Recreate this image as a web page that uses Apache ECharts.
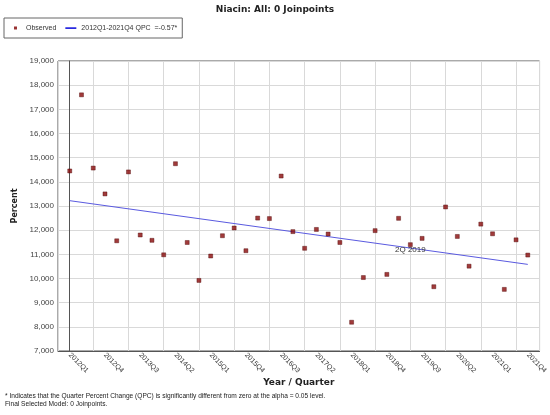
<!DOCTYPE html>
<html>
<head>
<meta charset="utf-8">
<script src="https://cdn.jsdelivr.net/npm/echarts@6/dist/echarts.min.js"></script>
<style>
html, body { margin: 0; padding: 0; background: #fff; }
#chart { width: 550px; height: 415px; }
</style>
</head>
<body>
<div id="chart"></div>
<script>
// quarters 2012Q1 .. 2021Q4
var quarters = [];
for (var yr = 2012; yr <= 2021; yr++) {
	for (var q = 1; q <= 4; q++) {
		quarters.push(yr + 'Q' + q);
	}
}

var observed = [14450, 17600, 14570, 13500, 11560, 14410, 11800, 11580, 10980, 14750,
	11490, 9920, 10930, 11770, 12090, 11150, 12500, 12480, 14240, 11940,
	11250, 12030, 11840, 11490, 8190, 10040, 11980, 10170, 12490, 11400,
	11660, 9660, 12960, 11740, 10510, 12250, 11850, 9550, 11600, 10970];

// fitted line (start / end of the segment)
var fitIndex = [0, 39];
var fitValue = [13220, 10584];

var labelIndex = 29; // 2Q 2019
var labelValue = 11200;

var obsName = 'Observed';
var fitName = '2012Q1-2021Q4 QPC  =-0.57*';

var scatterData = [];
for (var i = 0; i < observed.length; i++) {
	scatterData.push([i, observed[i]]);
}
var lineData = [];
for (var j = 0; j < fitIndex.length; j++) {
	lineData.push([fitIndex[j], fitValue[j]]);
}

// legend icons: tiny corner specks keep the icon box at 11x8
var dotIcon = 'path://M0,0h0.01v0.01h-0.01z M4,2.5h3v3h-3z M11,8h0.01v0.01h-0.01z';
var lineIcon = 'path://M0,0h0.01v0.01h-0.01z M0,3.3h11v1.6h-11z M11,8h0.01v0.01h-0.01z';

var myChart = echarts.init(document.getElementById('chart'));

var option = {
	backgroundColor : '#fff',
	animation : false,
	textStyle : {
		fontFamily : 'Liberation Sans'
	},
	title : {
		text : 'Niacin: All: 0 Joinpoints',
		left : 'center',
		top : 0,
		textStyle : {
			fontFamily : 'DejaVu Sans',
			fontSize : 9,
			fontWeight : 'bold',
			color : '#222'
		}
	},
	legend : {
		left : 4,
		top : 18,
		orient : 'horizontal',
		padding : [ 6, 5, 6, 6 ],
		borderColor : '#666',
		borderWidth : 1,
		borderRadius : 0,
		itemGap : 9,
		itemWidth : 11,
		itemHeight : 8,
		textStyle : {
			fontSize : 7,
			color : '#333'
		},
		data : [ {
			name : obsName,
			icon : dotIcon,
			itemStyle : {
				color : '#800000',
				borderWidth : 0
			}
		}, {
			name : fitName,
			icon : lineIcon,
			itemStyle : {
				color : '#2a2ae0',
				borderWidth : 0
			}
		} ]
	},
	grid : {
		left : 58,
		right : 9,
		top : 61,
		bottom : 64,
		show : true,
		borderColor : '#555',
		borderWidth : 1
	},
	xAxis : [ {
		type : 'value',
		min : -1,
		max : 40,
		interval : 3,
		name : 'Year / Quarter',
		nameLocation : 'middle',
		nameGap : 27,
		nameTextStyle : {
			fontFamily : 'DejaVu Sans',
			fontSize : 9,
			fontWeight : 'bold',
			color : '#222'
		},
		axisLine : {
			lineStyle : {
				color : '#555'
			}
		},
		axisTick : {
			show : false
		},
		axisLabel : {
			show : false
		},
		splitLine : {
			show : true,
			lineStyle : {
				color : '#d9d9d9'
			}
		}
	}, {
		type : 'value',
		min : -1,
		max : 40,
		interval : 1,
		position : 'bottom',
		axisLine : {
			show : false
		},
		axisTick : {
			show : false
		},
		splitLine : {
			show : false
		},
		axisLabel : {
			rotate : -45,
			margin : 3,
			fontSize : 7,
			color : '#333',
			formatter : function(v) {
				if (v >= 0 && v % 3 === 0 && v < quarters.length) {
					return quarters[v];
				}
				return '';
			}
		}
	} ],
	yAxis : {
		type : 'value',
		min : 7000,
		max : 19000,
		interval : 1000,
		name : 'Percent',
		nameLocation : 'middle',
		nameRotate : 90,
		nameGap : 38,
		nameTextStyle : {
			fontFamily : 'DejaVu Sans',
			fontSize : 8,
			fontWeight : 'bold',
			color : '#222'
		},
		axisLine : {
			show : true,
			lineStyle : {
				color : '#555'
			}
		},
		axisTick : {
			show : false
		},
		axisLabel : {
			fontSize : 8,
			color : '#444',
			margin : 4,
			formatter : function(v) {
				return v.toLocaleString('en-US');
			}
		},
		splitLine : {
			lineStyle : {
				color : '#d9d9d9'
			}
		}
	},
	graphic : [ {
		type : 'text',
		left : 5,
		top : 393,
		style : {
			text : '* Indicates that the Quarter Percent Change (QPC) is significantly different from zero at the alpha = 0.05 level.',
			font : '6.6px "Liberation Sans"',
			fill : '#222'
		}
	}, {
		type : 'text',
		left : 5,
		top : 401,
		style : {
			text : 'Final Selected Model: 0 Joinpoints.',
			font : '6.6px "Liberation Sans"',
			fill : '#222'
		}
	} ],
	series : [ {
		name : obsName,
		type : 'scatter',
		xAxisIndex : 0,
		symbol : 'rect',
		symbolSize : 4,
		itemStyle : {
			color : '#8a0a0a',
			borderColor : '#4a0000',
			borderWidth : 0.5
		},
		data : scatterData,
		z : 3
	}, {
		name : fitName,
		type : 'line',
		xAxisIndex : 0,
		symbol : 'none',
		lineStyle : {
			color : '#5a5ae0',
			width : 1
		},
		itemStyle : {
			color : '#2a2ae0'
		},
		data : lineData,
		markPoint : {
			symbol : 'circle',
			symbolSize : 0,
			label : {
				show : true,
				position : 'inside',
				formatter : '2Q 2019',
				fontSize : 8,
				color : '#333'
			},
			data : [ {
				coord : [ labelIndex, labelValue ]
			} ]
		},
		z : 2
	} ]
};

myChart.setOption(option);
</script>
</body>
</html>
